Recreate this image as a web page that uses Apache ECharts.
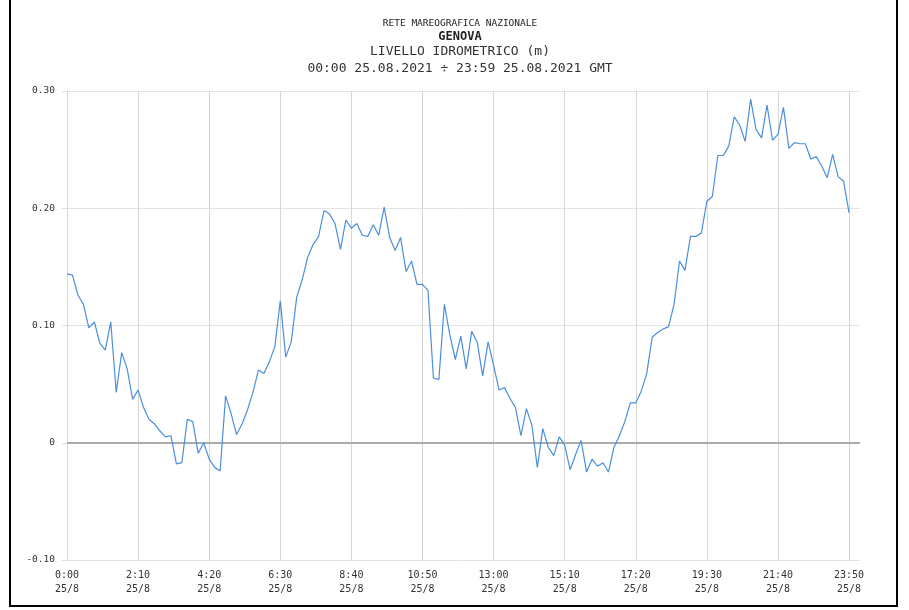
<!DOCTYPE html>
<html>
<head>
<meta charset="utf-8">
<script src="https://cdn.jsdelivr.net/npm/echarts@6/dist/echarts.min.js"></script>
<style>
html,body{margin:0;padding:0;background:#fff;}
#c{width:909px;height:610px;}
</style>
</head>
<body>
<div id="c"></div>
<script>
// Sea level (m), Genova, 25.08.2021, one sample every 10 minutes from 00:00 to 23:50
const stepMinutes = 10;
const level = [
  0.144, 0.143, 0.126, 0.118, 0.098, 0.103, 0.085, 0.079, 0.103, 0.043,
  0.077, 0.063, 0.037, 0.045, 0.030, 0.020, 0.016, 0.010, 0.005, 0.006,
  -0.018, -0.017, 0.020, 0.018, -0.009, 0.000, -0.014, -0.021, -0.024, 0.040,
  0.025, 0.007, 0.016, 0.028, 0.043, 0.062, 0.059, 0.069, 0.082, 0.121,
  0.073, 0.086, 0.124, 0.139, 0.158, 0.169, 0.176, 0.198, 0.195, 0.187,
  0.165, 0.190, 0.183, 0.187, 0.177, 0.176, 0.186, 0.177, 0.201, 0.175,
  0.164, 0.175, 0.146, 0.155, 0.135, 0.135, 0.130, 0.055, 0.054, 0.118,
  0.092, 0.071, 0.091, 0.063, 0.095, 0.086, 0.057, 0.086, 0.066, 0.045,
  0.047, 0.038, 0.030, 0.006, 0.029, 0.015, -0.021, 0.012, -0.004, -0.011,
  0.005, -0.002, -0.023, -0.010, 0.002, -0.025, -0.014, -0.020, -0.017, -0.025,
  -0.004, 0.006, 0.018, 0.034, 0.034, 0.044, 0.059, 0.090, 0.094, 0.097,
  0.099, 0.118, 0.155, 0.147, 0.176, 0.176, 0.179, 0.206, 0.210, 0.245,
  0.245, 0.253, 0.278, 0.271, 0.257, 0.293, 0.267, 0.260, 0.288, 0.258,
  0.263, 0.286, 0.251, 0.256, 0.255, 0.255, 0.242, 0.244, 0.236, 0.226,
  0.246, 0.227, 0.223, 0.196
];
const xTickLabels = ['0:00','2:10','4:20','6:30','8:40','10:50','13:00','15:10','17:20','19:30','21:40','23:50'];
const xTickDate = '25/8';
const xTickStep = 130; // minutes
const yTicks = [-0.10, 0, 0.10, 0.20, 0.30];
const titleLines = [
  'RETE MAREOGRAFICA NAZIONALE',
  'GENOVA',
  'LIVELLO IDROMETRICO (m)',
  '00:00 25.08.2021 \u00F7 23:59 25.08.2021 GMT'
];

const seriesData = level.map((v, i) => [i * stepMinutes, v]);
const mono = 'DejaVu Sans Mono';
const titleX = 460;

const chart = echarts.init(document.getElementById('c'), null, {renderer: 'canvas'});
chart.setOption({
  animation: false,
  backgroundColor: '#fff',
  grid: {left: 67, right: 49, top: 91, bottom: 50, containLabel: false},
  xAxis: {
    type: 'value',
    min: 0,
    max: 1450,
    interval: xTickStep,
    axisLine: {show: false},
    axisTick: {show: true, length: 4, lineStyle: {color: '#d6d6d6'}},
    splitLine: {show: true, showMaxLine: false, lineStyle: {color: '#d6d6d6', width: 1}},
    axisLabel: {
      margin: 8,
      fontFamily: mono,
      fontSize: 10,
      color: '#333',
      lineHeight: 14,
      showMaxLabel: false,
      formatter: function (v) {
        const k = Math.round(v / xTickStep);
        if (Math.abs(v - k * xTickStep) > 0.01 || k >= xTickLabels.length) return '';
        return xTickLabels[k] + '\n' + xTickDate;
      }
    }
  },
  yAxis: {
    type: 'value',
    min: yTicks[0],
    max: yTicks[yTicks.length - 1],
    interval: 0.1,
    axisLine: {show: false},
    axisTick: {show: true, length: 5, lineStyle: {color: '#e0e0e0'}},
    splitLine: {show: true, lineStyle: {color: '#e3e3e3', width: 1}},
    axisLabel: {
      margin: 12,
      fontFamily: mono,
      fontSize: 9.5,
      color: '#333',
      formatter: function (v) {
        if (Math.abs(v) < 1e-9) return '0';
        return v.toFixed(2);
      }
    }
  },
  series: [{
    type: 'line',
    data: seriesData,
    showSymbol: false,
    symbol: 'none',
    lineStyle: {color: '#4a8fdc', width: 1.2},
    z: 3,
    markLine: {
      silent: true,
      symbol: 'none',
      label: {show: false},
      lineStyle: {color: '#ababab', width: 2, type: 'solid'},
      data: [{yAxis: 0}],
      z: 2
    }
  }],
  graphic: [
    {type: 'text', x: titleX, y: 19, silent: true,
     style: {text: titleLines[0], textAlign: 'center', font: 'normal 9.5px "DejaVu Sans Mono"', fill: '#222'}},
    {type: 'text', x: titleX, y: 31, silent: true,
     style: {text: titleLines[1], textAlign: 'center', font: 'bold 12px "DejaVu Sans Mono"', fill: '#222'}},
    {type: 'text', x: titleX, y: 45, silent: true,
     style: {text: titleLines[2], textAlign: 'center', font: 'normal 13px "DejaVu Sans Mono"', fill: '#333'}},
    {type: 'text', x: titleX, y: 62, silent: true,
     style: {text: titleLines[3], textAlign: 'center', font: 'normal 13px "DejaVu Sans Mono"', fill: '#333'}},
    {type: 'rect', silent: true,
     shape: {x: 10, y: -2, width: 887, height: 608},
     style: {fill: 'none', stroke: '#000', lineWidth: 2}}
  ]
});
</script>
</body>
</html>
